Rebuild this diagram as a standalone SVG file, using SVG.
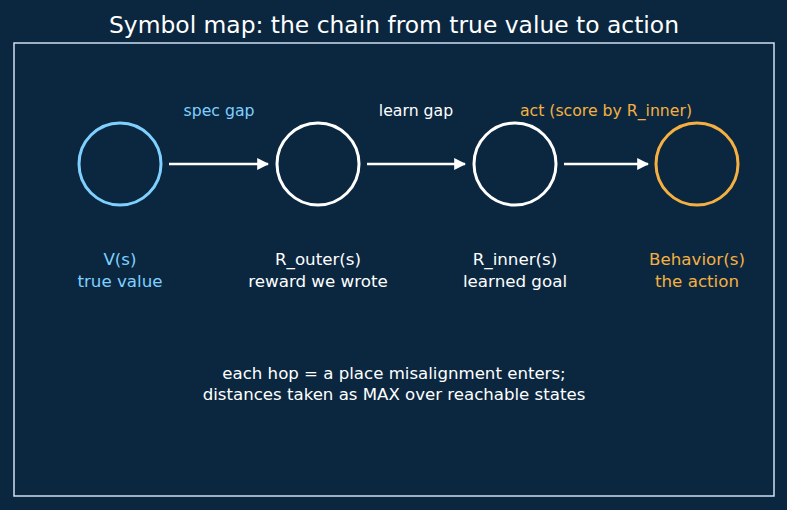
<svg xmlns="http://www.w3.org/2000/svg" width="787" height="510" viewBox="0 0 787 510">
<defs>
<style>
text{font-family:"DejaVu Sans","Noto Sans",sans-serif;text-anchor:middle}
.node{fill:none;stroke-width:3}
.lbl{font-size:16.7px}
.bot{font-size:16.6px}
.edge{font-size:15.7px}
.conn{stroke:#ffffff;stroke-width:2.5;fill:none}
</style>
<marker id="ah" viewBox="0 0 10 10" refX="9" refY="5" markerWidth="4.8" markerHeight="4.8" orient="auto" markerUnits="strokeWidth">
<path d="M0,0 L10,5 L0,10 z" fill="#ffffff"/>
</marker>
</defs>
<rect x="0" y="0" width="787" height="510" fill="#0b2740"/>
<text x="394" y="33" font-size="23.4" fill="#ffffff">Symbol map: the chain from true value to action</text>
<rect x="14" y="43" width="760" height="453" fill="none" stroke="#cfe0f0" stroke-width="1.5"/>
<g id="connectors">
<line class="conn" x1="169" y1="164" x2="268" y2="164" marker-end="url(#ah)"/>
<line class="conn" x1="367" y1="164" x2="465" y2="164" marker-end="url(#ah)"/>
<line class="conn" x1="564" y1="164" x2="648" y2="164" marker-end="url(#ah)"/>
<text class="edge" x="219" y="116" fill="#7fd0ff">spec gap</text>
<text class="edge" x="416" y="116" fill="#ffffff">learn gap</text>
<text class="edge" x="606" y="116" fill="#f5b041">act (score by R_inner)</text>
</g>
<g id="node-V">
<circle class="node" cx="120" cy="164" r="41" stroke="#7fd0ff"/>
<text class="lbl" x="120" y="265" fill="#7fd0ff">V(s)</text>
<text class="lbl" x="120" y="287" fill="#7fd0ff">true value</text>
</g>
<g id="node-Router">
<circle class="node" cx="318" cy="164" r="41" stroke="#ffffff"/>
<text class="lbl" x="318" y="265" fill="#ffffff">R_outer(s)</text>
<text class="lbl" x="318" y="287" fill="#ffffff">reward we wrote</text>
</g>
<g id="node-Rinner">
<circle class="node" cx="515" cy="164" r="41" stroke="#ffffff"/>
<text class="lbl" x="515" y="265" fill="#ffffff">R_inner(s)</text>
<text class="lbl" x="515" y="287" fill="#ffffff">learned goal</text>
</g>
<g id="node-Behavior">
<circle class="node" cx="697" cy="164" r="41" stroke="#f5b041"/>
<text class="lbl" x="697" y="265" fill="#f5b041">Behavior(s)</text>
<text class="lbl" x="697" y="287" fill="#f5b041">the action</text>
</g>
<text class="bot" x="394" y="379" fill="#ffffff">each hop = a place misalignment enters;</text>
<text class="bot" x="394" y="400" fill="#ffffff">distances taken as MAX over reachable states</text>
</svg>
